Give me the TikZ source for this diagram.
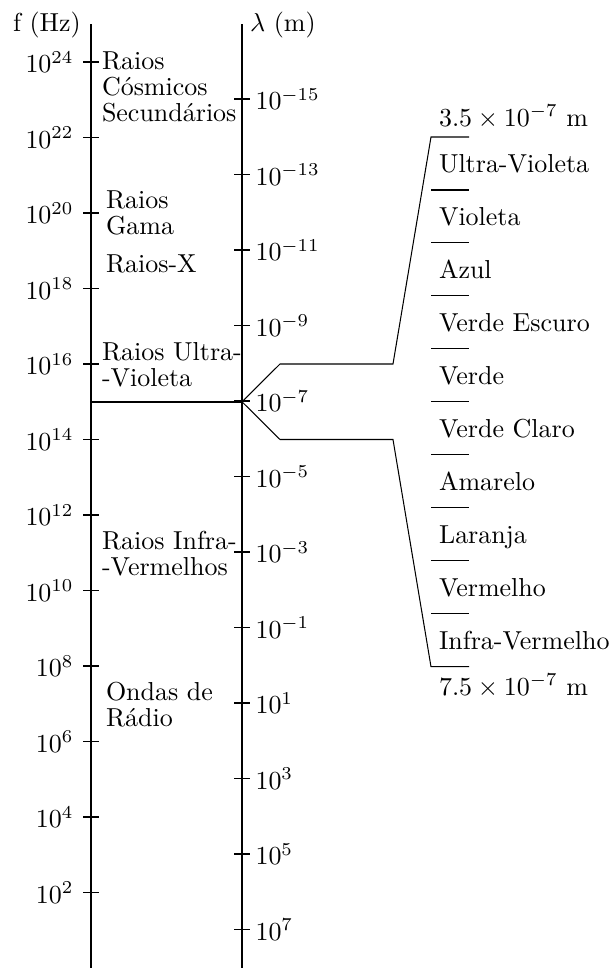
\documentclass[tikz,border=0pt]{standalone}
\usepackage{fontspec}
\begin{document}
\begin{tikzpicture}[x=0.385pt,y=-0.385pt,
  every node/.style={inner sep=0pt, font=\fontsize{10}{10}\selectfont},
  axisline/.style={line width=0.4pt},
  tickline/.style={line width=0.4pt},
  thickline/.style={line width=0.85pt},
  brace/.style={line width=0.4pt},
  region/.style={anchor=base west, align=left},
  band/.style={anchor=base west}]
\useasboundingbox (0,0) rectangle (616,969);
% axes
\coordinate (Ltop) at (91,24.25);
\coordinate (Lbot) at (91,968);
\coordinate (Rtop) at (242,24.25);
\coordinate (Rbot) at (242,968);
\draw[axisline] (Ltop) -- (Lbot);
\draw[axisline] (Rtop) -- (Rbot);
\node[anchor=base west] (fhead) at (12.5,31.5) {f (Hz)};
\node[anchor=base west] (lhead) at (249.5,31.5) {$\lambda$ (m)};
% frequency ticks
\foreach \e [count=\i from 0] in {24,22,...,2} {
  \pgfmathsetmacro{\yy}{62+75.5*\i}
  \coordinate (ft\i) at (91,\yy);
  \draw[tickline] ([xshift=-8*0.385pt]ft\i) -- ([xshift=8*0.385pt]ft\i);
  \node[anchor=east] (fl\i) at (74,\yy) {$10^{\e}$};
}
% wavelength ticks
\foreach \e [count=\i from 0] in {-15,-13,...,7} {
  \pgfmathsetmacro{\yy}{99+75.5*\i}
  \coordinate (wt\i) at (242,\yy);
  \draw[tickline] ([xshift=-8*0.385pt]wt\i) -- ([xshift=8*0.385pt]wt\i);
  \node[anchor=west] (wl\i) at (255,\yy) {$10^{\e}$};
}
% visible light marker
\coordinate (visL) at (91,401.75);
\coordinate (visR) at (242,401.75);
\draw[thickline] (visL) -- (visR);
% region labels (anchor at baseline of last line)
\node[region] (cosm) at (101.5,121.3) {Raios\\Cósmicos\\Secundários};
\node[region] (gama) at (105.5,234.3) {Raios\\Gama};
\node[region] (xray) at (105.5,272.7) {Raios-X};
\node[region] (uv) at (101.5,386.5) {Raios Ultra-\\-Violeta};
\node[region] (ir) at (101.5,575.5) {Raios Infra-\\-Vermelhos};
\node[region] (radio) at (105.5,726.7) {Ondas de\\Rádio};
% zoom bracket
\coordinate (up1) at (280,364);
\coordinate (up2) at (393,364);
\coordinate (up3) at (431,137);
\coordinate (up4) at (469,137);
\coordinate (lo1) at (280,439.5);
\coordinate (lo2) at (393,439.5);
\coordinate (lo3) at (431,666.7);
\coordinate (lo4) at (469,666.7);
\draw[brace] (visR) -- (up1) -- (up2) -- (up3) -- (up4);
\draw[brace] (visR) -- (lo1) -- (lo2) -- (lo3) -- (lo4);
% band dividers
\foreach \k in {1,...,9} {
  \coordinate (dA\k) at (431,137+52.97*\k);
  \coordinate (dB\k) at (469,137+52.97*\k);
  \draw[brace] (dA\k) -- (dB\k);
}
% band labels
\foreach \name [count=\k from 0] in {Ultra-Violeta,Violeta,Azul,Verde Escuro,Verde,Verde Claro,Amarelo,Laranja,Vermelho,Infra-Vermelho} {
  \node[band] (b\k) at (438.5,137+52.97*\k+35.7) {\name};
}
\node[band] (top) at (438.5,126) {$3.5\times10^{-7}$ m};
\node[band] (bot) at (438.5,695) {$7.5\times10^{-7}$ m};
\end{tikzpicture}
\end{document}
